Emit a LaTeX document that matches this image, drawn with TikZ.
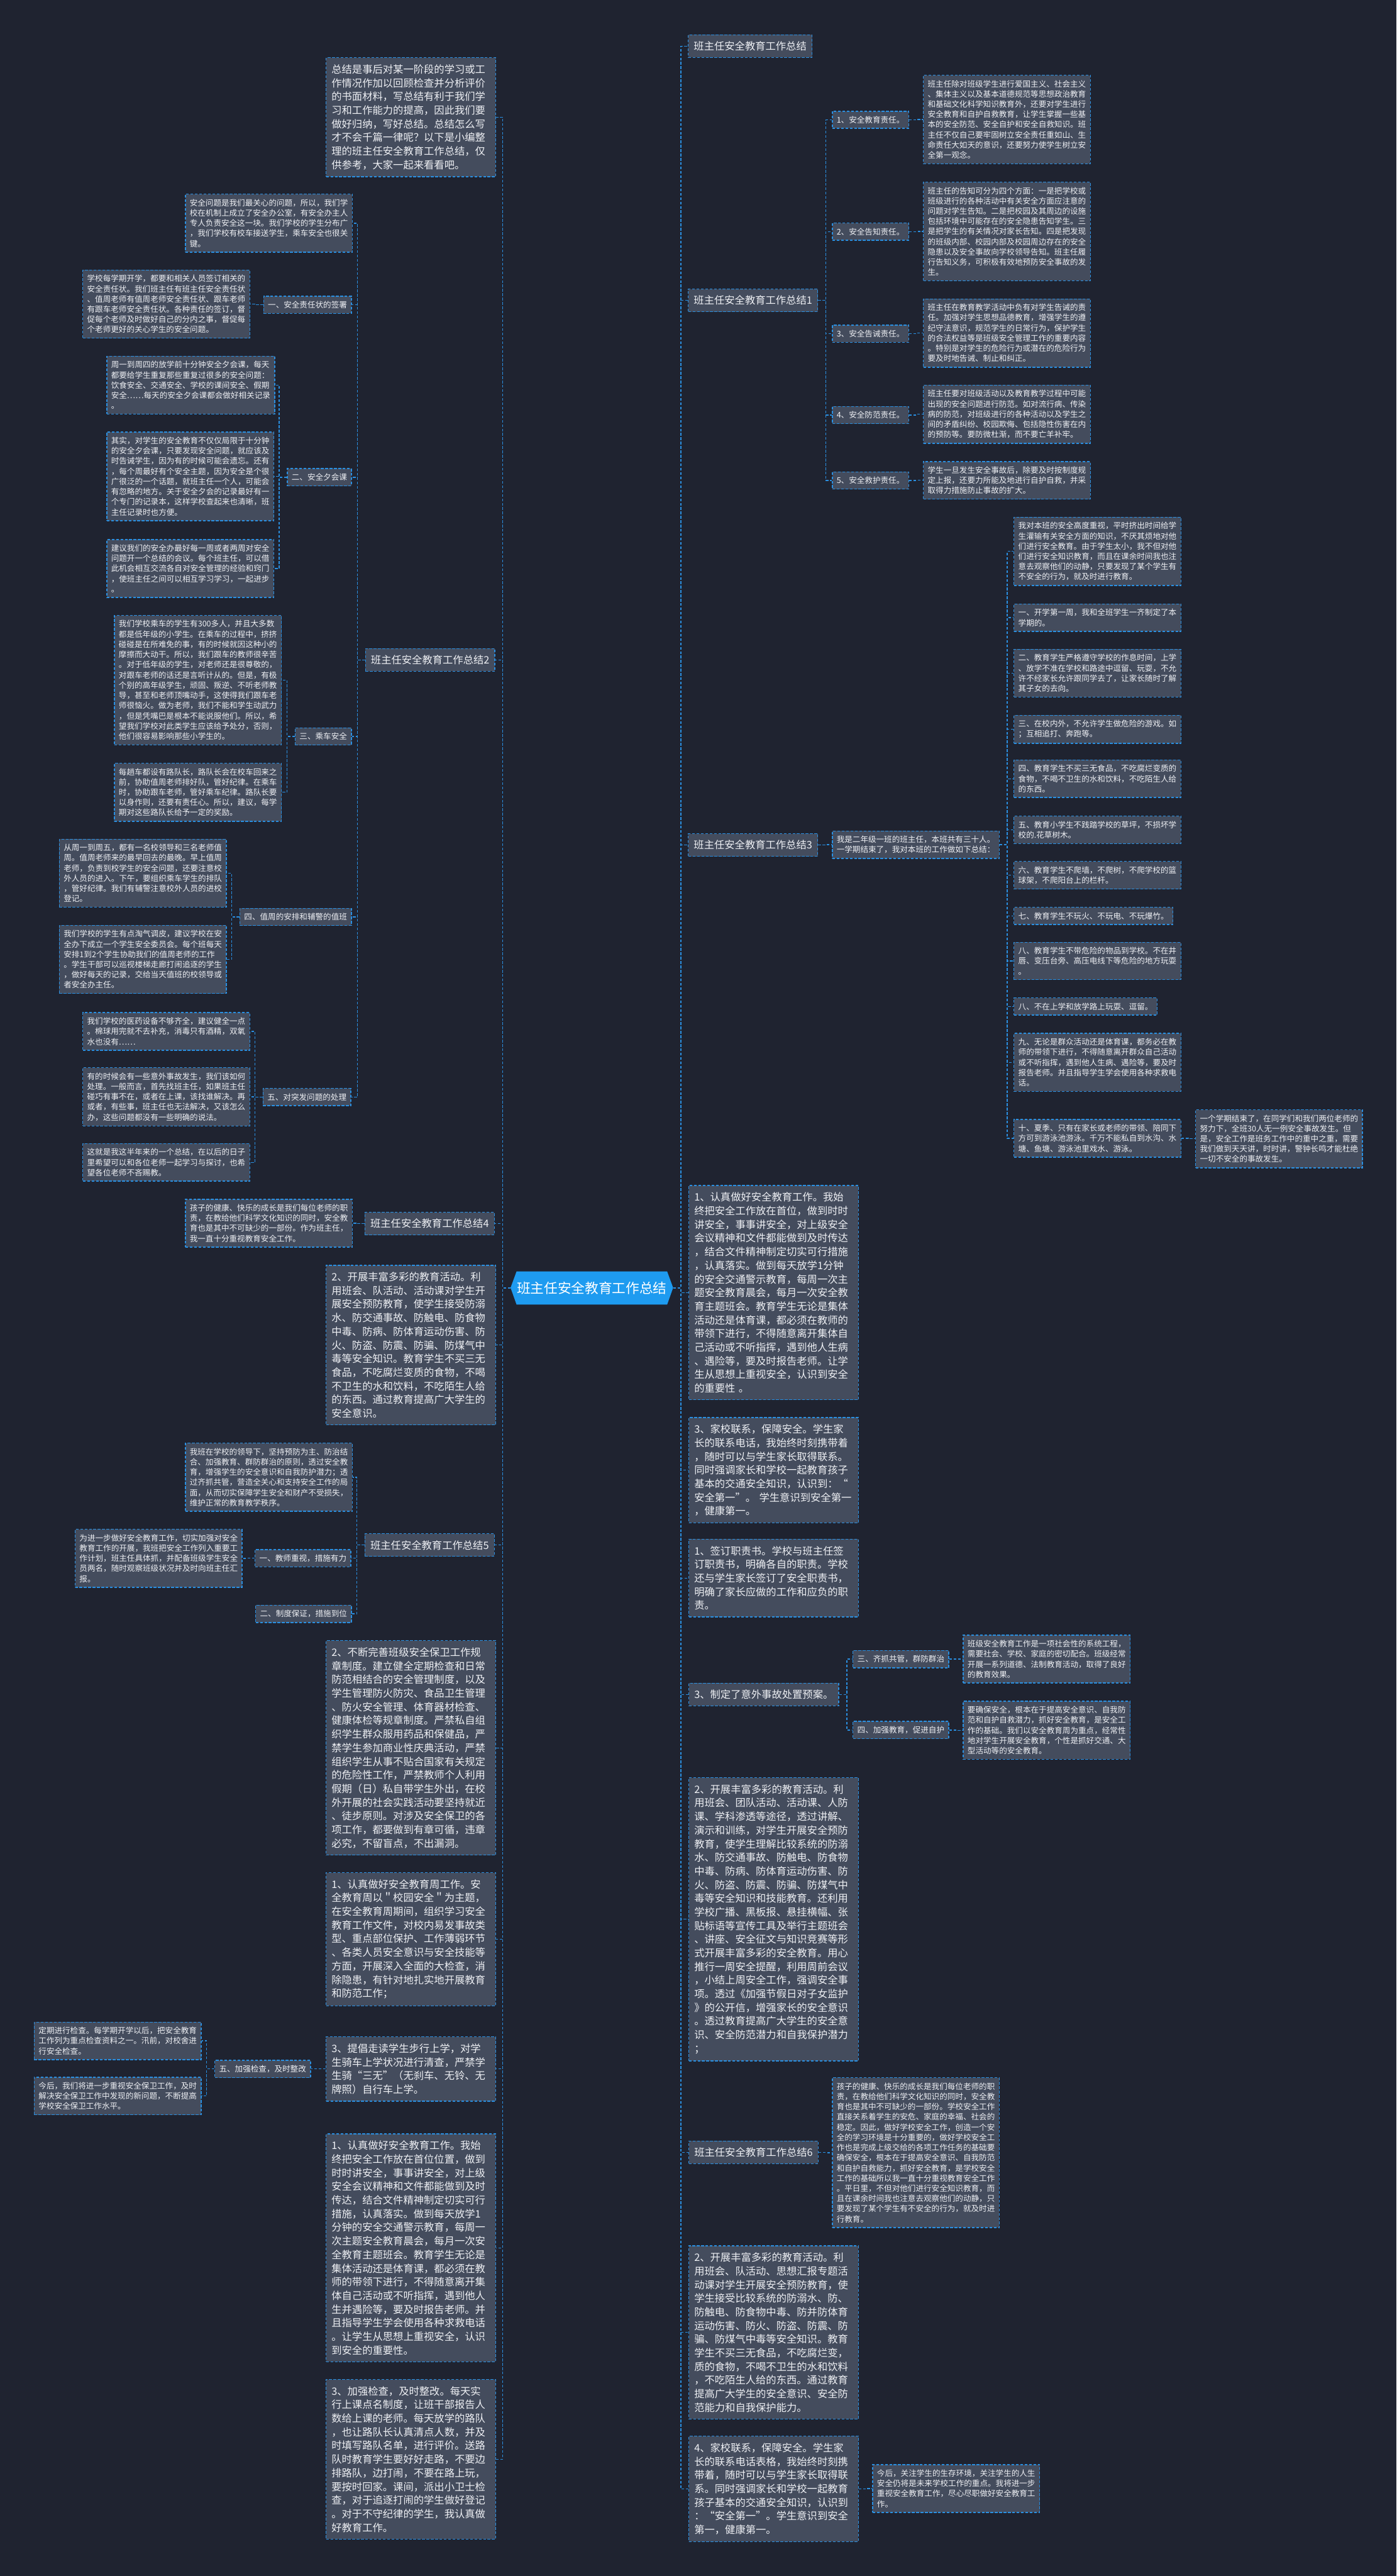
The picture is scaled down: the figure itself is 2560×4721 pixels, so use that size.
\documentclass[tikz,border=0pt]{standalone}
\usepackage{fontspec}
\setmainfont{Noto Sans CJK SC}
\definecolor{bg}{HTML}{1F2330}
\definecolor{bfill}{HTML}{444C5D}
\definecolor{lblue}{HTML}{2A8FE0}
\definecolor{tcol}{HTML}{EEF0F4}
\definecolor{rootblue}{HTML}{1E9BF0}
\begin{document}
\begin{tikzpicture}[x=1pt,y=-1pt,
 box/.style={draw=lblue, fill=bfill, line width=1.6pt, dash pattern=on 5pt off 3pt, text=tcol},
 leaf/.style={box, font=\fontsize{14.5}{18.7}\selectfont, inner xsep=8pt, inner ysep=9pt, align=left},
 big/.style={box, font=\fontsize{18.8}{25}\selectfont, inner xsep=10pt, inner ysep=12.5pt, align=left, text width=291pt},
 bigs/.style={box, font=\fontsize{18.8}{25}\selectfont, inner xsep=10pt, inner ysep=12pt},
 conn/.style={draw=lblue, line width=1.6pt, dash pattern=on 5pt off 3pt}
]
\fill[bg] (0,0) rectangle (2560,4721);
\useasboundingbox (0,0) rectangle (2560,4721);
% root
\fill[rootblue] (936,2360) -- (947,2330) -- (1223,2330) -- (1234,2360) -- (1223,2391) -- (947,2391) -- cycle;
\node[font=\fontsize{25}{30}\selectfont, text=white, minimum width=298pt, minimum height=61pt, inner sep=0pt] (root) at (1085,2360.5) {班主任安全教育工作总结};

% ================= LEFT =================
\node[big, anchor=north west] (intro) at (597,105) {总结是事后对某一阶段的学习或工\\作情况作加以回顾检查并分析评价\\的书面材料，写总结有利于我们学\\习和工作能力的提高，因此我们要\\做好归纳，写好总结。总结怎么写\\才不会千篇一律呢？以下是小编整\\理的班主任安全教育工作总结，仅\\供参考，大家一起来看看吧。};

\node[bigs, anchor=north east] (b2) at (908,1188) {班主任安全教育工作总结2};
\node[leaf, anchor=north west] (l2a) at (339,355) {安全问题是我们最关心的问题，所以，我们学\\校在机制上成立了安全办公室，有安全办主人\\专人负责安全这一块。我们学校的学生分布广\\，我们学校有校车接送学生，乘车安全也很关\\键。};
\node[leaf, anchor=north east] (s21) at (645,542) {一、安全责任状的签署};
\node[leaf, anchor=north west] (l21) at (151,494) {学校每学期开学，都要和相关人员签订相关的\\安全责任状。我们班主任有班主任安全责任状\\、值周老师有值周老师安全责任状、跟车老师\\有跟车老师安全责任状。各种责任的签订，督\\促每个老师及时做好自己的分内之事，督促每\\个老师更好的关心学生的安全问题。};
\node[leaf, anchor=north east] (s22) at (645,858) {二、安全夕会课};
\node[leaf, anchor=north west] (l22a) at (195,652) {周一到周四的放学前十分钟安全夕会课，每天\\都要给学生重复那些重复过很多的安全问题：\\饮食安全、交通安全、学校的课间安全、假期\\安全……每天的安全夕会课都会做好相关记录\\。};
\node[leaf, anchor=north west] (l22b) at (195,791) {其实，对学生的安全教育不仅仅局限于十分钟\\的安全夕会课，只要发现安全问题，就应该及\\时告诫学生，因为有的时候可能会遗忘。还有\\，每个周最好有个安全主题，因为安全是个很\\广很泛的一个话题，就班主任一个人，可能会\\有忽略的地方。关于安全夕会的记录最好有一\\个专门的记录本，这样学校查起来也清晰，班\\主任记录时也方便。};
\node[leaf, anchor=north west] (l22c) at (195,988) {建议我们的安全办最好每一周或者两周对安全\\问题开一个总结的会议。每个班主任，可以借\\此机会相互交流各自对安全管理的经验和窍门\\，使班主任之间可以相互学习学习，一起进步\\。};
\node[leaf, anchor=north east] (s23) at (645,1333) {三、乘车安全};
\node[leaf, anchor=north west] (l23a) at (209,1127) {我们学校乘车的学生有300多人，并且大多数\\都是低年级的小学生。在乘车的过程中，挤挤\\碰碰是在所难免的事，有的时候就因这种小的\\摩擦而大动干。所以，我们跟车的教师很辛苦\\。对于低年级的学生，对老师还是很尊敬的，\\对跟车老师的话还是言听计从的。但是，有极\\个别的高年级学生，顽固、叛逆、不听老师教\\导，甚至和老师顶嘴动手，这使得我们跟车老\\师很恼火。做为老师，我们不能和学生动武力\\，但是凭嘴巴是根本不能说服他们。所以，希\\望我们学校对此类学生应该给予处分，否则，\\他们很容易影响那些小学生的。};
\node[leaf, anchor=north west] (l23b) at (209,1398) {每趟车都设有路队长，路队长会在校车回来之\\前，协助值周老师排好队，管好纪律。在乘车\\时，协助跟车老师，管好乘车纪律。路队长要\\以身作则，还要有责任心。所以，建议，每学\\期对这些路队长给予一定的奖励。};
\node[leaf, anchor=north east] (s24) at (645,1664) {四、值周的安排和辅警的值班};
\node[leaf, anchor=north west] (l24a) at (108,1537) {从周一到周五，都有一名校领导和三名老师值\\周。值周老师来的最早回去的最晚。早上值周\\老师，负责到校学生的安全问题，还要注意校\\外人员的进入。下午，要组织乘车学生的排队\\，管好纪律。我们有辅警注意校外人员的进校\\登记。};
\node[leaf, anchor=north west] (l24b) at (108,1695) {我们学校的学生有点淘气调皮，建议学校在安\\全办下成立一个学生安全委员会。每个班每天\\安排1到2个学生协助我们的值周老师的工作\\。学生干部可以巡视楼梯走廊打闹追逐的学生\\，做好每天的记录，交给当天值班的校领导或\\者安全办主任。};
\node[leaf, anchor=north east] (s25) at (644,1994) {五、对突发问题的处理};
\node[leaf, anchor=north west] (l25a) at (151,1855) {我们学校的医药设备不够齐全，建议健全一点\\。棉球用完就不去补充，消毒只有酒精，双氧\\水也没有……};
\node[leaf, anchor=north west] (l25b) at (151,1956) {有的时候会有一些意外事故发生，我们该如何\\处理。一般而言，首先找班主任，如果班主任\\碰巧有事不在，或者在上课，该找谁解决。再\\或者，有些事，班主任也无法解决，又该怎么\\办，这些问题都没有一些明确的说法。};
\node[leaf, anchor=north west] (l25c) at (151,2095) {这就是我这半年来的一个总结，在以后的日子\\里希望可以和各位老师一起学习与探讨，也希\\望各位老师不吝赐教。};

\node[bigs, anchor=north east] (b4) at (907,2221) {班主任安全教育工作总结4};
\node[leaf, anchor=north west] (l4) at (339,2197) {孩子的健康、快乐的成长是我们每位老师的职\\责，在教给他们科学文化知识的同时，安全教\\育也是其中不可缺少的一部份。作为班主任，\\我一直十分重视教育安全工作。};

\node[big, anchor=north west] (L1) at (597,2318) {2、开展丰富多彩的教育活动。利\\用班会、队活动、活动课对学生开\\展安全预防教育，使学生接受防溺\\水、防交通事故、防触电、防食物\\中毒、防病、防体育运动伤害、防\\火、防盗、防震、防骗、防煤气中\\毒等安全知识。教育学生不买三无\\食品，不吃腐烂变质的食物，不喝\\不卫生的水和饮料，不吃陌生人给\\的东西。通过教育提高广大学生的\\安全意识。};

\node[bigs, anchor=north east] (b5) at (907,2810) {班主任安全教育工作总结5};
\node[leaf, anchor=north west] (l5a) at (339,2644) {我班在学校的领导下，坚持预防为主、防治结\\合、加强教育、群防群治的原则，透过安全教\\育，增强学生的安全意识和自我防护潜力；透\\过齐抓共管，营造全关心和支持安全工作的局\\面，从而切实保障学生安全和财产不受损失，\\维护正常的教育教学秩序。};
\node[leaf, anchor=north east] (s51) at (644,2839) {一、教师重视，措施有力};
\node[leaf, anchor=north west] (l51) at (137,2802) {为进一步做好安全教育工作，切实加强对安全\\教育工作的开展，我班把安全工作列入重要工\\作计划，班主任具体抓，并配备班级学生安全\\员两名，随时观察班级状况并及时向班主任汇\\报。};
\node[leaf, anchor=north east] (s52) at (645,2941) {二、制度保证，措施到位};

\node[big, anchor=north west] (L2) at (597,3006) {2、不断完善班级安全保卫工作规\\章制度。建立健全定期检查和日常\\防范相结合的安全管理制度，以及\\学生管理防火防灾、食品卫生管理\\、防火安全管理、体育器材检查、\\健康体检等规章制度。严禁私自组\\织学生群众服用药品和保健品，严\\禁学生参加商业性庆典活动，严禁\\组织学生从事不贴合国家有关规定\\的危险性工作，严禁教师个人利用\\假期（日）私自带学生外出，在校\\外开展的社会实践活动要坚持就近\\、徒步原则。对涉及安全保卫的各\\项工作，都要做到有章可循，违章\\必究，不留盲点，不出漏洞。};
\node[big, anchor=north west] (L3) at (597,3431) {1、认真做好安全教育周工作。安\\全教育周以＂校园安全＂为主题，\\在安全教育周期间，组织学习安全\\教育工作文件，对校内易发事故类\\型、重点部位保护、工作薄弱环节\\、各类人员安全意识与安全技能等\\方面，开展深入全面的大检查，消\\除隐患，有针对地扎实地开展教育\\和防范工作；};
\node[big, anchor=north west] (L4) at (597,3732) {3、提倡走读学生步行上学，对学\\生骑车上学状况进行清查，严禁学\\生骑“三无”（无刹车、无铃、无\\牌照）自行车上学。};
\node[leaf, anchor=north east] (s41) at (570,3775) {五、加强检查，及时整改};
\node[leaf, anchor=north west] (l41a) at (62,3705) {定期进行检查。每学期开学以后，把安全教育\\工作列为重点检查资料之一。汛前，对校舍进\\行安全检查。};
\node[leaf, anchor=north west] (l41b) at (62,3806) {今后，我们将进一步重视安全保卫工作，及时\\解决安全保卫工作中发现的新问题，不断提高\\学校安全保卫工作水平。};
\node[big, anchor=north west] (L5) at (597,3910) {1、认真做好安全教育工作。我始\\终把安全工作放在首位位置，做到\\时时讲安全，事事讲安全，对上级\\安全会议精神和文件都能做到及时\\传达，结合文件精神制定切实可行\\措施，认真落实。做到每天放学1\\分钟的安全交通警示教育，每周一\\次主题安全教育晨会，每月一次安\\全教育主题班会。教育学生无论是\\集体活动还是体育课，都必须在教\\师的带领下进行，不得随意离开集\\体自己活动或不听指挥，遇到他人\\生并遇险等，要及时报告老师。并\\且指导学生学会使用各种求救电话\\。让学生从思想上重视安全，认识\\到安全的重要性。};
\node[big, anchor=north west] (L6) at (597,4360) {3、加强检查，及时整改。每天实\\行上课点名制度，让班干部报告人\\数给上课的老师。每天放学的路队\\，也让路队长认真清点人数，并及\\时填写路队名单，进行评价。送路\\队时教育学生要好好走路，不要边\\排路队，边打闹，不要在路上玩，\\要按时回家。课间，派出小卫士检\\查，对于追逐打闹的学生做好登记\\。对于不守纪律的学生，我认真做\\好教育工作。};

% ================= RIGHT =================
\node[bigs, anchor=north west] (b0) at (1261,63) {班主任安全教育工作总结};
\node[bigs, anchor=north west] (b1) at (1261,529) {班主任安全教育工作总结1};
\node[leaf, anchor=north west] (s11) at (1525,203) {1、安全教育责任。};
\node[leaf, anchor=north west] (s12) at (1525,408) {2、安全告知责任。};
\node[leaf, anchor=north west] (s13) at (1525,595) {3、安全告诫责任。};
\node[leaf, anchor=north west] (s14) at (1525,744) {4、安全防范责任。};
\node[leaf, anchor=north west] (s15) at (1525,864) {5、安全救护责任。};
\node[leaf, anchor=north west] (l11) at (1692,137) {班主任除对班级学生进行爱国主义、社会主义\\、集体主义以及基本道德规范等思想政治教育\\和基础文化科学知识教育外，还要对学生进行\\安全教育和自护自救教育，让学生掌握一些基\\本的安全防范、安全自护和安全自救知识。班\\主任不仅自己要牢固树立安全责任重如山、生\\命责任大如天的意识，还要努力使学生树立安\\全第一观念。};
\node[leaf, anchor=north west] (l12) at (1692,333) {班主任的告知可分为四个方面：一是把学校或\\班级进行的各种活动中有关安全方面应注意的\\问题对学生告知。二是把校园及其周边的设施\\包括环境中可能存在的安全隐患告知学生。三\\是把学生的有关情况对家长告知。四是把发现\\的班级内部、校园内部及校园周边存在的安全\\隐患以及安全事故向学校领导告知。班主任履\\行告知义务，可积极有效地预防安全事故的发\\生。};
\node[leaf, anchor=north west] (l13) at (1692,547) {班主任在教育教学活动中负有对学生告诫的责\\任。加强对学生思想品德教育，增强学生的遵\\纪守法意识，规范学生的日常行为，保护学生\\的合法权益等是班级安全管理工作的重要内容\\。特别是对学生的危险行为或潜在的危险行为\\要及时地告诫、制止和纠正。};
\node[leaf, anchor=north west] (l14) at (1692,705) {班主任要对班级活动以及教育教学过程中可能\\出现的安全问题进行防范。如对流行病、传染\\病的防范，对班级进行的各种活动以及学生之\\间的矛盾纠纷、校园欺侮、包括隐性伤害在内\\的预防等。要防微杜渐，而不要亡羊补牢。};
\node[leaf, anchor=north west] (l15) at (1692,845) {学生一旦发生安全事故后，除要及时按制度规\\定上报，还要力所能及地进行自护自救，并采\\取得力措施防止事故的扩大。};

\node[bigs, anchor=north west] (b3) at (1261,1527) {班主任安全教育工作总结3};
\node[leaf, anchor=north west] (s3) at (1525,1522) {我是二年级一班的班主任，本班共有三十人。\\一学期结束了，我对本班的工作做如下总结：};
\node[leaf, anchor=north west] (l3a) at (1858,947) {我对本班的安全高度重视，平时挤出时间给学\\生灌输有关安全方面的知识，不厌其烦地对他\\们进行安全教育。由于学生太小，我不但对他\\们进行安全知识教育，而且在课余时间我也注\\意去观察他们的动静，只要发现了某个学生有\\不安全的行为，就及时进行教育。};
\node[leaf, anchor=north west] (l3b) at (1858,1106) {一、开学第一周，我和全班学生一齐制定了本\\学期的。};
\node[leaf, anchor=north west] (l3c) at (1858,1189) {二、教育学生严格遵守学校的作息时间，上学\\、放学不准在学校和路途中逗留、玩耍，不允\\许不经家长允许跟同学去了，让家长随时了解\\其子女的去向。};
\node[leaf, anchor=north west] (l3d) at (1858,1310) {三、在校内外，不允许学生做危险的游戏。如\\；互相追打、奔跑等。};
\node[leaf, anchor=north west] (l3e) at (1858,1392) {四、教育学生不买三无食品，不吃腐烂变质的\\食物，不喝不卫生的水和饮料，不吃陌生人给\\的东西。};
\node[leaf, anchor=north west] (l3f) at (1858,1495) {五、教育小学生不践踏学校的草坪，不损坏学\\校的.花草树木。};
\node[leaf, anchor=north west] (l3g) at (1858,1578) {六、教育学生不爬墙，不爬树，不爬学校的篮\\球架，不爬阳台上的栏杆。};
\node[leaf, anchor=north west] (l3h) at (1858,1662) {七、教育学生不玩火、不玩电、不玩爆竹。};
\node[leaf, anchor=north west] (l3i) at (1858,1726) {八、教育学生不带危险的物品到学校。不在井\\唇、变压台旁、高压电线下等危险的地方玩耍\\。};
\node[leaf, anchor=north west] (l3j) at (1858,1828) {八、不在上学和放学路上玩耍、逗留。};
\node[leaf, anchor=north west] (l3k) at (1858,1893) {九、无论是群众活动还是体育课，都务必在教\\师的带领下进行，不得随意离开群众自己活动\\或不听指挥，遇到他人生病、遇险等，要及时\\报告老师。并且指导学生学会使用各种求救电\\话。};
\node[leaf, anchor=north west] (l3l) at (1858,2051) {十、夏季、只有在家长或老师的带领、陪同下\\方可到游泳池游泳。千万不能私自到水沟、水\\塘、鱼塘、游泳池里戏水、游泳。};
\node[leaf, anchor=north west] (l3m) at (2191,2033) {一个学期结束了，在同学们和我们两位老师的\\努力下，全班30人无一例安全事故发生。但\\是，安全工作是班务工作中的重中之重，需要\\我们做到天天讲，时时讲，警钟长鸣才能杜绝\\一切不安全的事故发生。};

\node[big, anchor=north west] (R1) at (1262,2172) {1、认真做好安全教育工作。我始\\终把安全工作放在首位，做到时时\\讲安全，事事讲安全，对上级安全\\会议精神和文件都能做到及时传达\\，结合文件精神制定切实可行措施\\，认真落实。做到每天放学1分钟\\的安全交通警示教育，每周一次主\\题安全教育晨会，每月一次安全教\\育主题班会。教育学生无论是集体\\活动还是体育课，都必须在教师的\\带领下进行，不得随意离开集体自\\己活动或不听指挥，遇到他人生病\\、遇险等，要及时报告老师。让学\\生从思想上重视安全，认识到安全\\的重要性 。};
\node[big, anchor=north west] (R2) at (1262,2597) {3、家校联系，保障安全。学生家\\长的联系电话，我始终时刻携带着\\，随时可以与学生家长取得联系。\\同时强调家长和学校一起教育孩子\\基本的交通安全知识，认识到：“\\安全第一”。 学生意识到安全第一\\，健康第一。};
\node[big, anchor=north west] (R3) at (1262,2820) {1、签订职责书。学校与班主任签\\订职责书，明确各自的职责。学校\\还与学生家长签订了安全职责书，\\明确了家长应做的工作和应负的职\\责。};
\node[bigs, anchor=north west] (R4) at (1262,3084) {3、制定了意外事故处置预案。};
\node[leaf, anchor=north west] (s41r) at (1563,3024) {三、齐抓共管，群防群治};
\node[leaf, anchor=north west] (s42r) at (1563,3154) {四、加强教育，促进自护};
\node[leaf, anchor=north west] (l41r) at (1765,2996) {班级安全教育工作是一项社会性的系统工程，\\需要社会、学校、家庭的密切配合。班级经常\\开展一系列道德、法制教育活动，取得了良好\\的教育效果。};
\node[leaf, anchor=north west] (l42r) at (1765,3117) {要确保安全，根本在于提高安全意识、自我防\\范和自护自救潜力，抓好安全教育，是安全工\\作的基础。我们以安全教育周为重点，经常性\\地对学生开展安全教育，个性是抓好交通、大\\型活动等的安全教育。};
\node[big, anchor=north west] (R5) at (1262,3257) {2、开展丰富多彩的教育活动。利\\用班会、团队活动、活动课、人防\\课、学科渗透等途径，透过讲解、\\演示和训练，对学生开展安全预防\\教育，使学生理解比较系统的防溺\\水、防交通事故、防触电、防食物\\中毒、防病、防体育运动伤害、防\\火、防盗、防震、防骗、防煤气中\\毒等安全知识和技能教育。还利用\\学校广播、黑板报、悬挂横幅、张\\贴标语等宣传工具及举行主题班会\\、讲座、安全征文与知识竞赛等形\\式开展丰富多彩的安全教育。用心\\推行一周安全提醒，利用周前会议\\，小结上周安全工作，强调安全事\\项。透过《加强节假日对子女监护\\》的公开信，增强家长的安全意识\\。透过教育提高广大学生的安全意\\识、安全防范潜力和自我保护潜力\\；};
\node[bigs, anchor=north west] (b6) at (1262,3923) {班主任安全教育工作总结6};
\node[leaf, anchor=north west] (l6) at (1525,3807) {孩子的健康、快乐的成长是我们每位老师的职\\责，在教给他们科学文化知识的同时，安全教\\育也是其中不可缺少的一部份。学校安全工作\\直接关系着学生的安危、家庭的幸福、社会的\\稳定。因此，做好学校安全工作，创造一个安\\全的学习环境是十分重要的，做好学校安全工\\作也是完成上级交给的各项工作任务的基础要\\确保安全，根本在于提高安全意识、自我防范\\和自护自救能力，抓好安全教育，是学校安全\\工作的基础所以我一直十分重视教育安全工作\\。平日里，不但对他们进行安全知识教育，而\\且在课余时间我也注意去观察他们的动静，只\\要发现了某个学生有不安全的行为，就及时进\\行教育。};
\node[big, anchor=north west] (R6) at (1262,4115) {2、开展丰富多彩的教育活动。利\\用班会、队活动、思想汇报专题活\\动课对学生开展安全预防教育，使\\学生接受比较系统的防溺水、防、\\防触电、防食物中毒、防并防体育\\运动伤害、防火、防盗、防震、防\\骗、防煤气中毒等安全知识。教育\\学生不买三无食品，不吃腐烂变，\\质的食物，不喝不卫生的水和饮料\\，不吃陌生人给的东西。通过教育\\提高广大学生的安全意识、安全防\\范能力和自我保护能力。};
\node[big, anchor=north west] (R7) at (1262,4464) {4、家校联系，保障安全。学生家\\长的联系电话表格，我始终时刻携\\带着，随时可以与学生家长取得联\\系。同时强调家长和学校一起教育\\孩子基本的交通安全知识，认识到\\：“安全第一”。学生意识到安全\\第一，健康第一。};
\node[leaf, anchor=north west] (l7) at (1599,4516) {今后，关注学生的生存环境，关注学生的人生\\安全仍将是未来学校工作的重点。我将进一步\\重视安全教育工作，尽心尽职做好安全教育工\\作。};

% ================= CONNECTORS =================
\foreach \c in {intro,b2,b4,L1,b5,L2,L3,L4,L5,L6}
  \draw[conn] (root.west) -- ++(-14,0) |- (\c.east);
\foreach \c in {b0,b1,b3,R1,R2,R3,R4,R5,b6,R6,R7}
  \draw[conn] (root.east) -- ++(14,0) |- (\c.west);
\foreach \c in {l2a,s21,s22,s23,s24,s25}
  \draw[conn] (b2.west) -- ++(-14,0) |- (\c.east);
\draw[conn] (s21.west) -- ++(-14,0) |- (l21.east);
\foreach \c in {l22a,l22b,l22c} \draw[conn] (s22.west) -- ++(-14,0) |- (\c.east);
\foreach \c in {l23a,l23b} \draw[conn] (s23.west) -- ++(-14,0) |- (\c.east);
\foreach \c in {l24a,l24b} \draw[conn] (s24.west) -- ++(-14,0) |- (\c.east);
\foreach \c in {l25a,l25b,l25c} \draw[conn] (s25.west) -- ++(-14,0) |- (\c.east);
\draw[conn] (b4.west) -- ++(-14,0) |- (l4.east);
\foreach \c in {l5a,s51,s52} \draw[conn] (b5.west) -- ++(-14,0) |- (\c.east);
\draw[conn] (s51.west) -- ++(-14,0) |- (l51.east);
\draw[conn] (L4.west) -- ++(-14,0) |- (s41.east);
\foreach \c in {l41a,l41b} \draw[conn] (s41.west) -- ++(-14,0) |- (\c.east);
\foreach \c in {s11,s12,s13,s14,s15} \draw[conn] (b1.east) -- ++(14,0) |- (\c.west);
\draw[conn] (s11.east) -- ++(14,0) |- (l11.west);
\draw[conn] (s12.east) -- ++(14,0) |- (l12.west);
\draw[conn] (s13.east) -- ++(14,0) |- (l13.west);
\draw[conn] (s14.east) -- ++(14,0) |- (l14.west);
\draw[conn] (s15.east) -- ++(14,0) |- (l15.west);
\draw[conn] (b3.east) -- ++(14,0) |- (s3.west);
\foreach \c in {l3a,l3b,l3c,l3d,l3e,l3f,l3g,l3h,l3i,l3j,l3k,l3l} \draw[conn] (s3.east) -- ++(14,0) |- (\c.west);
\draw[conn] (l3l.east) -- ++(13,0) |- (l3m.west);
\foreach \c in {s41r,s42r} \draw[conn] (R4.east) -- ++(14,0) |- (\c.west);
\draw[conn] (s41r.east) -- ++(14,0) |- (l41r.west);
\draw[conn] (s42r.east) -- ++(14,0) |- (l42r.west);
\draw[conn] (b6.east) -- ++(14,0) |- (l6.west);
\draw[conn] (R7.east) -- ++(14,0) |- (l7.west);
\end{tikzpicture}
\end{document}
